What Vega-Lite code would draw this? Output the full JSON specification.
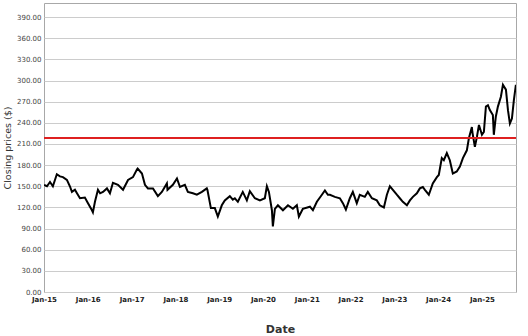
{
  "$schema": "https://vega.github.io/schema/vega-lite/v6.json",
  "width": 472,
  "height": 289,
  "autosize": {"type": "none"},
  "padding": {"left": 44, "top": 3, "right": 12, "bottom": 44},
  "background": "white",
  "config": {
    "font": "DejaVu Sans",
    "view": {"stroke": "#a8a8a8", "strokeWidth": 1},
    "axis": {"labelFont": "DejaVu Sans", "titleFont": "DejaVu Sans", "labelColor": "#444444", "titleColor": "#333333", "domain": false, "ticks": false, "labelFontSize": 7}
  },
  "data": {"values": [
    {"date": "2015-01-02", "close": 152}, {"date": "2015-01-26", "close": 150}, {"date": "2015-02-20", "close": 156},
    {"date": "2015-03-16", "close": 150}, {"date": "2015-04-18", "close": 167}, {"date": "2015-05-14", "close": 164},
    {"date": "2015-06-08", "close": 163}, {"date": "2015-07-11", "close": 159}, {"date": "2015-08-05", "close": 150},
    {"date": "2015-08-22", "close": 142}, {"date": "2015-09-16", "close": 145}, {"date": "2015-10-03", "close": 140},
    {"date": "2015-10-28", "close": 133}, {"date": "2015-12-08", "close": 134}, {"date": "2016-01-03", "close": 126},
    {"date": "2016-02-05", "close": 116}, {"date": "2016-02-13", "close": 113}, {"date": "2016-03-01", "close": 128},
    {"date": "2016-03-26", "close": 145}, {"date": "2016-04-13", "close": 140}, {"date": "2016-05-07", "close": 142},
    {"date": "2016-06-09", "close": 147}, {"date": "2016-07-04", "close": 140}, {"date": "2016-07-29", "close": 155},
    {"date": "2016-09-09", "close": 152}, {"date": "2016-10-21", "close": 145}, {"date": "2016-12-02", "close": 159},
    {"date": "2017-01-12", "close": 163}, {"date": "2017-02-15", "close": 174}, {"date": "2017-02-20", "close": 175},
    {"date": "2017-03-28", "close": 168}, {"date": "2017-04-22", "close": 152}, {"date": "2017-05-17", "close": 147},
    {"date": "2017-06-28", "close": 147}, {"date": "2017-08-08", "close": 136}, {"date": "2017-09-10", "close": 142},
    {"date": "2017-10-22", "close": 154}, {"date": "2017-10-27", "close": 145}, {"date": "2017-12-11", "close": 152},
    {"date": "2018-01-14", "close": 161}, {"date": "2018-02-08", "close": 149}, {"date": "2018-03-21", "close": 152},
    {"date": "2018-04-15", "close": 142}, {"date": "2018-05-27", "close": 140}, {"date": "2018-06-29", "close": 138},
    {"date": "2018-08-10", "close": 142}, {"date": "2018-09-20", "close": 147}, {"date": "2018-09-25", "close": 145},
    {"date": "2018-10-24", "close": 119}, {"date": "2018-11-26", "close": 119}, {"date": "2018-12-21", "close": 107},
    {"date": "2019-01-23", "close": 123}, {"date": "2019-02-17", "close": 130}, {"date": "2019-03-31", "close": 136},
    {"date": "2019-04-25", "close": 131}, {"date": "2019-05-12", "close": 133}, {"date": "2019-06-06", "close": 128},
    {"date": "2019-07-17", "close": 142}, {"date": "2019-08-20", "close": 130}, {"date": "2019-09-14", "close": 143},
    {"date": "2019-10-26", "close": 133}, {"date": "2019-12-07", "close": 130}, {"date": "2020-01-17", "close": 133},
    {"date": "2020-02-03", "close": 150}, {"date": "2020-02-20", "close": 142}, {"date": "2020-03-16", "close": 116},
    {"date": "2020-03-24", "close": 93}, {"date": "2020-04-10", "close": 118}, {"date": "2020-05-05", "close": 123},
    {"date": "2020-06-16", "close": 116}, {"date": "2020-07-28", "close": 123}, {"date": "2020-09-07", "close": 118},
    {"date": "2020-10-10", "close": 123}, {"date": "2020-10-27", "close": 107}, {"date": "2020-11-29", "close": 118},
    {"date": "2021-01-27", "close": 121}, {"date": "2021-02-21", "close": 116}, {"date": "2021-03-26", "close": 128},
    {"date": "2021-05-07", "close": 138}, {"date": "2021-06-01", "close": 144}, {"date": "2021-06-26", "close": 138},
    {"date": "2021-07-13", "close": 138}, {"date": "2021-08-23", "close": 135}, {"date": "2021-10-04", "close": 133},
    {"date": "2021-10-29", "close": 126}, {"date": "2021-11-23", "close": 117}, {"date": "2021-12-26", "close": 133},
    {"date": "2022-01-20", "close": 142}, {"date": "2022-02-22", "close": 126}, {"date": "2022-03-19", "close": 138},
    {"date": "2022-04-30", "close": 135}, {"date": "2022-05-25", "close": 142}, {"date": "2022-06-28", "close": 133},
    {"date": "2022-08-08", "close": 130}, {"date": "2022-09-02", "close": 123}, {"date": "2022-10-06", "close": 120},
    {"date": "2022-10-31", "close": 138}, {"date": "2022-11-25", "close": 150}, {"date": "2022-12-20", "close": 145},
    {"date": "2023-01-22", "close": 138}, {"date": "2023-02-16", "close": 133}, {"date": "2023-03-13", "close": 128},
    {"date": "2023-04-16", "close": 123}, {"date": "2023-05-11", "close": 130}, {"date": "2023-06-05", "close": 135},
    {"date": "2023-07-08", "close": 140}, {"date": "2023-08-02", "close": 147}, {"date": "2023-08-27", "close": 149},
    {"date": "2023-09-13", "close": 145}, {"date": "2023-10-16", "close": 138}, {"date": "2023-11-18", "close": 154},
    {"date": "2023-12-22", "close": 163}, {"date": "2024-01-07", "close": 166}, {"date": "2024-02-01", "close": 190},
    {"date": "2024-02-18", "close": 187}, {"date": "2024-03-14", "close": 197}, {"date": "2024-04-08", "close": 187},
    {"date": "2024-05-03", "close": 168}, {"date": "2024-06-05", "close": 171}, {"date": "2024-07-01", "close": 178},
    {"date": "2024-07-26", "close": 190}, {"date": "2024-08-28", "close": 201}, {"date": "2024-09-14", "close": 218},
    {"date": "2024-10-09", "close": 234}, {"date": "2024-10-13", "close": 227}, {"date": "2024-11-03", "close": 206},
    {"date": "2024-11-20", "close": 220}, {"date": "2024-12-07", "close": 237}, {"date": "2025-01-01", "close": 223},
    {"date": "2025-01-17", "close": 227}, {"date": "2025-02-03", "close": 263}, {"date": "2025-02-20", "close": 265},
    {"date": "2025-03-08", "close": 258}, {"date": "2025-04-02", "close": 251}, {"date": "2025-04-10", "close": 223},
    {"date": "2025-04-27", "close": 249}, {"date": "2025-05-14", "close": 263}, {"date": "2025-06-08", "close": 277},
    {"date": "2025-06-25", "close": 294}, {"date": "2025-07-20", "close": 287}, {"date": "2025-08-06", "close": 258},
    {"date": "2025-08-22", "close": 239}, {"date": "2025-09-08", "close": 246}, {"date": "2025-09-24", "close": 272},
    {"date": "2025-10-11", "close": 294}
  ]},
  "layer": [
    {
      "mark": {"type": "line", "color": "#000000", "strokeWidth": 2, "strokeJoin": "miter", "clip": true},
      "encoding": {
        "x": {
          "field": "date", "type": "temporal",
          "scale": {"domain": ["2015-01-01", "2025-10-12"]},
          "axis": {"title": "Date", "titleFontSize": 11, "titleFontWeight": "bold", "titlePadding": 21, "format": "%b-%y", "tickCount": {"interval": "year", "step": 1}, "grid": false, "labelPadding": 3, "labelFlush": false, "labelOverlap": false, "labelFontWeight": "bold", "labelColor": "#222222", "labelFontSize": 7}
        },
        "y": {
          "field": "close", "type": "quantitative",
          "scale": {"domain": [0, 410], "nice": false},
          "axis": {"title": "Closing prices ($)", "titleFontSize": 9.5, "titleFontWeight": "normal", "titlePadding": 4, "format": ".2f", "values": [0, 30, 60, 90, 120, 150, 180, 210, 240, 270, 300, 330, 360, 390], "tickCount": 20, "gridColor": "#cccccc", "gridWidth": 1, "labelPadding": 3, "labelOverlap": false, "labelFlush": false, "labelBound": false}
        }
      }
    },
    {
      "mark": {"type": "rule", "color": "#dd2020", "strokeWidth": 1.3},
      "encoding": {"y": {"datum": 219, "type": "quantitative"}}
    }
  ]
}
